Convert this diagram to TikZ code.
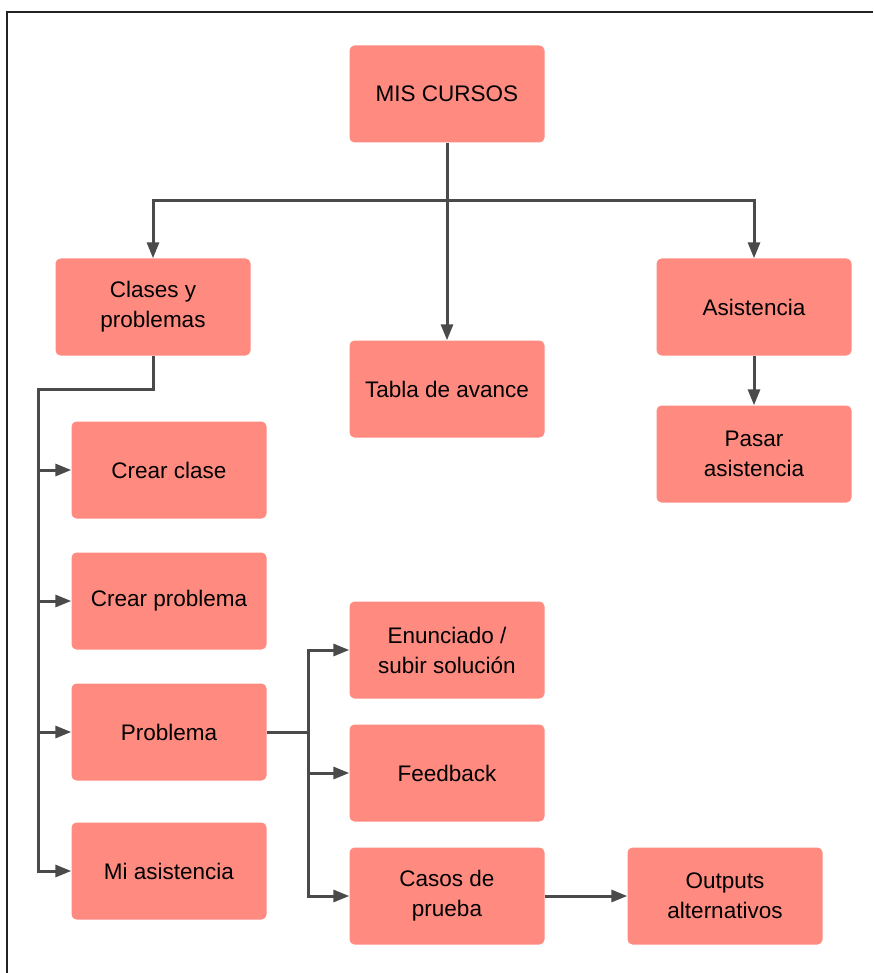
\documentclass[tikz,border=0pt]{standalone}
\usepackage{fontspec}
\setmainfont{Liberation Sans}
\usetikzlibrary{arrows.meta}
\definecolor{boxfill}{HTML}{FF8A80}
\definecolor{wire}{HTML}{4A4A4A}
\definecolor{frame}{HTML}{222222}
\tikzset{
  card/.style={rectangle, rounded corners=5pt, fill=boxfill, draw=none,
    minimum width=195pt, minimum height=97pt, align=center,
    font=\fontsize{22.5}{30}\selectfont, inner sep=0pt},
  wireline/.style={draw=wire, line width=3pt},
  wirearrow/.style={wireline, -{Triangle[length=16pt,width=12pt]}},
}
\begin{document}
\begin{tikzpicture}[x=1pt,y=-1pt]
  \useasboundingbox (0,0) rectangle (873,973);
  % outer frame (top and left edges)
  \draw[frame, line width=2pt] (6.5,973) -- (6.5,12.5) -- (873,12.5);

  % boxes
  \node[card] (mis)      at (447,94)  {MIS CURSOS};
  \node[card] (clases)   at (153,307) {Clases y\\problemas};
  \node[card] (tabla)    at (447,389) {Tabla de avance};
  \node[card] (asis)     at (754,307) {Asistencia};
  \node[card] (pasar)    at (754,454) {Pasar\\asistencia};
  \node[card] (crearc)   at (169,470) {Crear clase};
  \node[card] (crearp)   at (169,601) {Crear problema};
  \node[card] (problema) at (169,732) {Problema};
  \node[card] (miasis)   at (169,871) {Mi asistencia};
  \node[card] (enun)     at (447,650) {Enunciado /\\subir solución};
  \node[card] (feed)     at (447,773) {Feedback};
  \node[card] (casos)    at (447,896) {Casos de\\prueba};
  \node[card] (outs)     at (725,896) {Outputs\\alternativos};

  % top-level split
  \coordinate (split) at (447,201);
  \draw[wireline] (mis.south) -- (split);
  \draw[wirearrow] (split) -| (clases.north);
  \draw[wirearrow] (split) -| (asis.north);
  \draw[wirearrow] (split) -- (tabla.north);

  % asistencia
  \draw[wirearrow] (asis.south) -- (pasar.north);

  % clases y problemas bus
  \coordinate (lbus) at (38.5,389);
  \draw[wirearrow] (clases.south) |- (lbus) |- (miasis.west);
  \draw[wirearrow] (lbus |- crearc.west) -- (crearc.west);
  \draw[wirearrow] (lbus |- crearp.west) -- (crearp.west);
  \draw[wirearrow] (lbus |- problema.west) -- (problema.west);

  % problema bus
  \coordinate (pbus) at (308.5,732);
  \draw[wireline] (problema.east) -- (pbus);
  \draw[wirearrow] (pbus) |- (enun.west);
  \draw[wirearrow] (pbus) |- (casos.west);
  \draw[wirearrow] (pbus |- feed.west) -- (feed.west);

  % casos de prueba
  \draw[wirearrow] (casos.east) -- (outs.west);
\end{tikzpicture}
\end{document}
